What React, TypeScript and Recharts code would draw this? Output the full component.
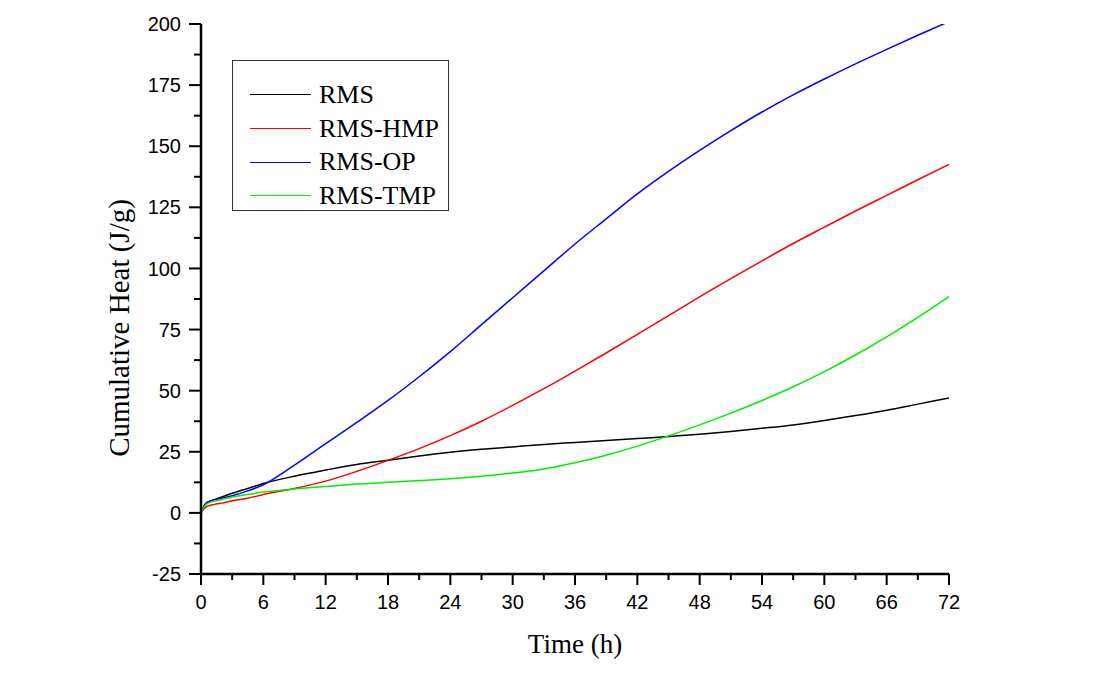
import React from "react";
import { LineChart, Line, XAxis, YAxis, Legend } from "recharts";

// sampling times (h)
const times = [0, 0.5, 1, 2, 3, 4.5, 6, 9, 12, 15, 18, 21, 24, 27, 30, 33, 36, 39, 42, 45, 48, 51, 54, 57, 60, 63, 66, 69, 72];

// cumulative heat (J/g)
const rms = [0, 4, 5, 6.5, 8, 10, 12, 15, 17.5, 19.8, 21.5, 23.3, 24.8, 26, 27, 28, 28.8, 29.6, 30.4, 31.2, 32.2, 33.3, 34.6, 36, 37.8, 39.8, 42, 44.5, 47];
const rmsHmp = [0, 2.5, 3.2, 4, 5, 6, 7.5, 10, 13, 17, 21.5, 26.3, 31.6, 37.5, 44, 50.8, 58, 65.4, 73, 80.7, 88.4, 95.8, 103.1, 110.2, 116.9, 123.5, 129.9, 136.3, 142.6];
const rmsOp = [0, 4, 5, 6, 7, 9, 11.5, 19.5, 28.3, 37, 46, 55.7, 66, 77, 88, 99, 110, 120.3, 130.5, 139.7, 148.3, 156.4, 164, 171, 177.5, 183.7, 189.6, 195.4, 201];
const rmsTmp = [0, 3.5, 4.5, 5.5, 6.5, 7.5, 8.5, 9.8, 10.8, 11.8, 12.5, 13.2, 14, 15, 16.3, 18, 20.5, 23.6, 27.3, 31.5, 36, 40.8, 46, 51.6, 57.8, 64.6, 72, 80, 88.5];

const xTicks = [0, 3, 6, 9, 12, 15, 18, 21, 24, 27, 30, 33, 36, 39, 42, 45, 48, 51, 54, 57, 60, 63, 66, 69, 72];
const yTicks = [-25, -12.5, 0, 12.5, 25, 37.5, 50, 62.5, 75, 87.5, 100, 112.5, 125, 137.5, 150, 162.5, 175, 187.5, 200];

const data = times.map((t, i) => ({
  t,
  rms: rms[i],
  hmp: rmsHmp[i],
  op: rmsOp[i],
  tmp: rmsTmp[i],
}));

const SANS = "'Liberation Sans', Arial, sans-serif";
const SERIF = "'Liberation Serif', 'Times New Roman', serif";

const XTick = (props: any) => {
  const { x, y, payload } = props;
  const major = payload.value % 6 === 0;
  return (
    <g>
      <line x1={x} y1={y} x2={x} y2={y + (major ? 11 : 6)} stroke="#000" strokeWidth={2} />
      {major && (
        <text x={x} y={y + 21} dy="0.71em" textAnchor="middle" fontFamily={SANS} fontSize={20} fill="#000">
          {payload.value}
        </text>
      )}
    </g>
  );
};

const YTick = (props: any) => {
  const { x, y, payload } = props;
  const major = payload.value % 25 === 0;
  return (
    <g>
      <line x1={x} y1={y} x2={x - (major ? 12 : 7)} y2={y} stroke="#000" strokeWidth={2} />
      {major && (
        <text x={x - 20} y={y} dy="0.355em" textAnchor="end" fontFamily={SANS} fontSize={20} fill="#000">
          {payload.value}
        </text>
      )}
    </g>
  );
};

// y title sits a bit below the plot's middle in the original
const YTitle = (props: any) => {
  const { viewBox } = props;
  const cx = viewBox.x + viewBox.width / 2;
  const cy = viewBox.y + viewBox.height / 2 + 29;
  return (
    <text
      x={cx}
      y={cy}
      dy="0.355em"
      textAnchor="middle"
      transform={`rotate(-90 ${cx} ${cy})`}
      fontFamily={SERIF}
      fontSize={29}
      fill="#000"
    >
      Cumulative Heat (J/g)
    </text>
  );
};

const LegendBox = (props: any) => (
  <div
    style={{
      width: 217,
      height: 151,
      border: "1px solid #333",
      boxSizing: "border-box",
      background: "#fff",
      paddingTop: 17,
    }}
  >
    {(props.payload || []).map((entry: any) => (
      <div key={entry.value} style={{ height: 33.7, display: "flex", alignItems: "center" }}>
        <span style={{ marginLeft: 17, width: 61, borderTop: `1.5px solid ${entry.color}` }} />
        <span style={{ marginLeft: 8, fontFamily: SERIF, fontSize: 26, lineHeight: 1, color: "#000" }}>
          {entry.value}
        </span>
      </div>
    ))}
  </div>
);

export default function App() {
  return (
    <div style={{ position: "absolute", left: 0, top: 0, background: "#fff" }}>
      <LineChart width={1097} height={697} data={data} margin={{ top: 24, right: 148, bottom: 0, left: 37 }}>
        <XAxis
          dataKey="t"
          type="number"
          domain={[0, 72]}
          ticks={xTicks}
          interval={0}
          height={123}
          tickSize={0}
          tickMargin={0}
          tickLine={false}
          tick={XTick}
          axisLine={{ stroke: "#000", strokeWidth: 2.5 }}
          label={{ value: "Time (h)", position: "insideBottom", offset: 44, fontFamily: SERIF, fontSize: 27, fill: "#000" }}
        />
        <YAxis
          type="number"
          domain={[-25, 200]}
          allowDataOverflow
          ticks={yTicks}
          interval={0}
          width={164}
          tickSize={0}
          tickMargin={0}
          tickLine={false}
          tick={YTick}
          axisLine={{ stroke: "#000", strokeWidth: 2.5 }}
          label={{ content: YTitle }}
        />
        <Legend
          layout="vertical"
          align="center"
          verticalAlign="middle"
          content={LegendBox}
          wrapperStyle={{ left: 232, top: 60, width: 217, height: 151 }}
        />
        <Line type="monotone" dataKey="rms" name="RMS" stroke="#000000" strokeWidth={1.5} dot={false} isAnimationActive={false} />
        <Line type="monotone" dataKey="hmp" name="RMS-HMP" stroke="#ff0000" strokeWidth={1.5} dot={false} isAnimationActive={false} />
        <Line type="monotone" dataKey="op" name="RMS-OP" stroke="#0000ff" strokeWidth={1.5} dot={false} isAnimationActive={false} />
        <Line type="monotone" dataKey="tmp" name="RMS-TMP" stroke="#00ee00" strokeWidth={1.5} dot={false} isAnimationActive={false} />
      </LineChart>
    </div>
  );
}
